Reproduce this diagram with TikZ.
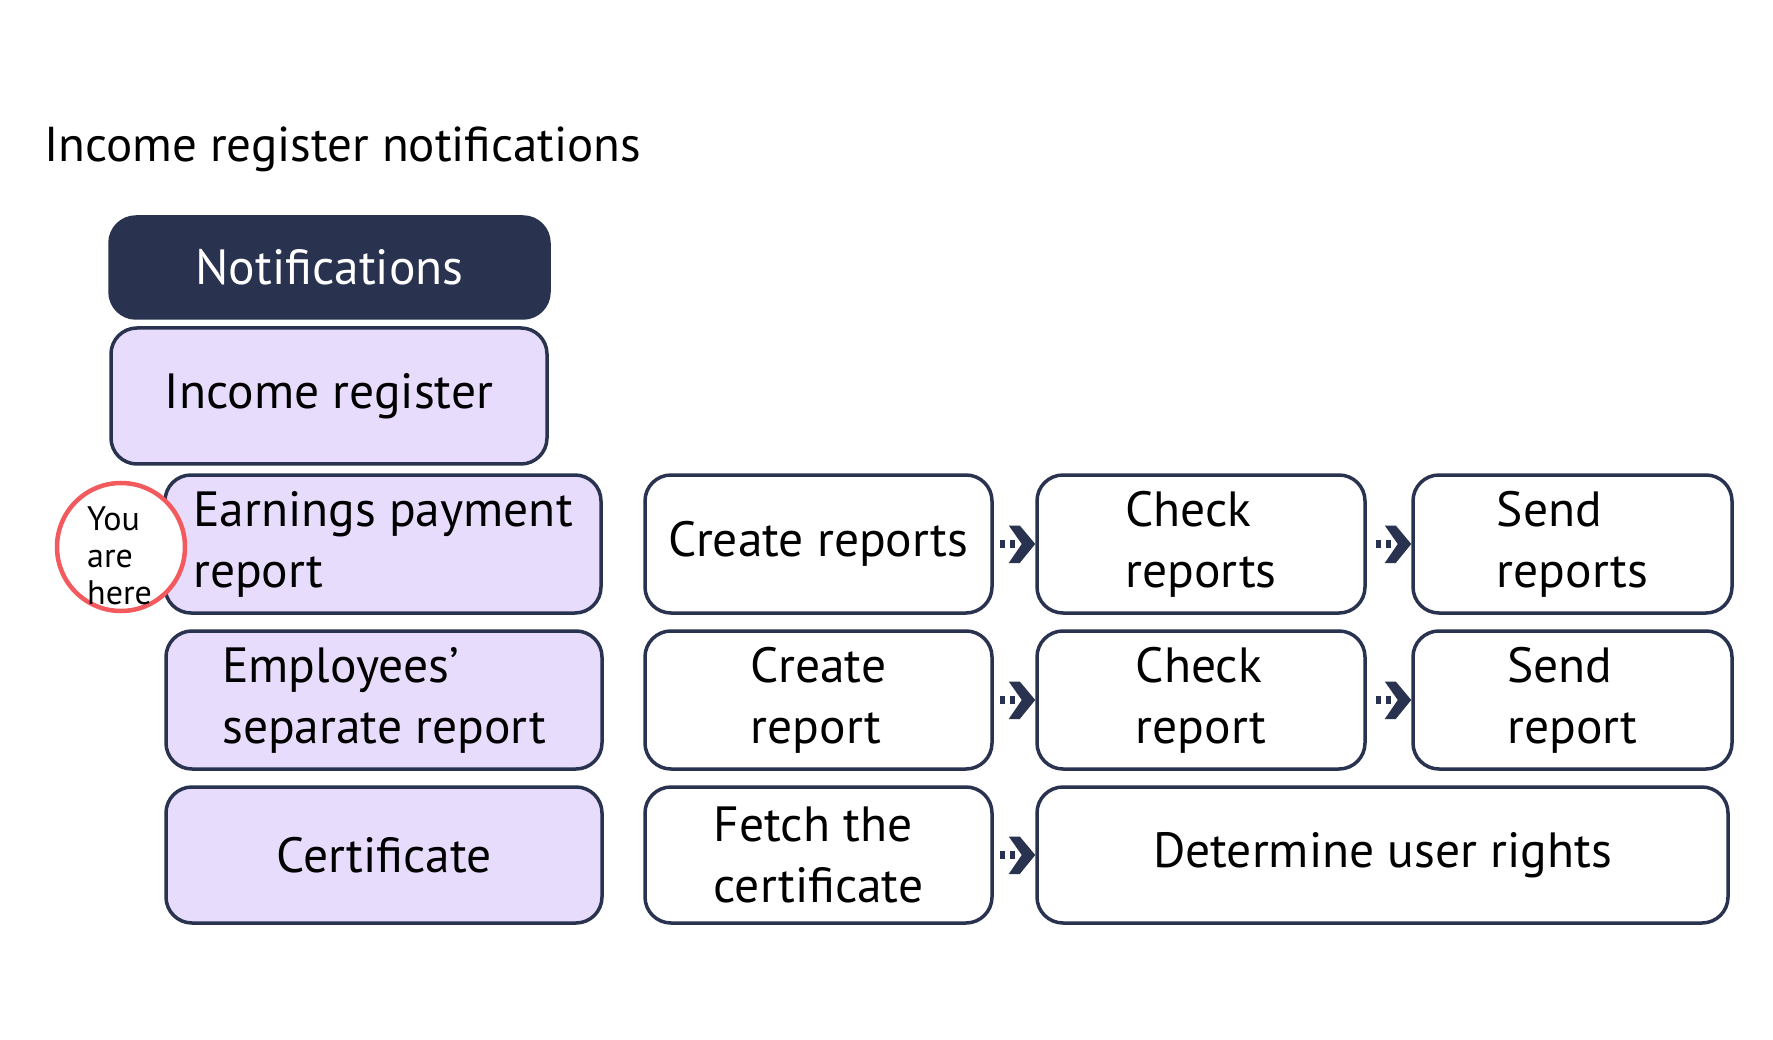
\documentclass[tikz,border=0pt]{standalone}
\usepackage{fontspec}
\setmainfont{PT Sans}
\usetikzlibrary{calc}
\definecolor{navy}{HTML}{29324F}
\definecolor{lav}{HTML}{E8DCFC}
\definecolor{hereRed}{HTML}{F25A5E}
\tikzset{
  box/.style={draw=navy, line width=3.5pt, rounded corners=26pt, inner sep=0pt,
    align=left, font=\fontsize{49.5}{61}\selectfont, text=black},
  lavbox/.style={box, fill=lav},
  whitebox/.style={box, fill=white},
  darkbox/.style={box, fill=navy, text=white},
}
\newcommand{\flowarrow}[2]{%
  \fill[navy] ($(#2.west)+(-26.5,-18.5)$) -- ($(#2.west)+(-15.5,-18.5)$) -- ($(#2.west)+(0,0)$)
    -- ($(#2.west)+(-15.5,19)$) -- ($(#2.west)+(-26.5,19)$) -- ($(#2.west)+(-13.5,0)$) -- cycle;
  \fill[navy] ($(#2.west)+(-35.3,-4)$) rectangle ($(#2.west)+(-30.3,3.7)$);
  \fill[navy] ($(#2.west)+(-25.3,-4)$) rectangle ($(#2.west)+(-20.3,3.7)$);
}
\begin{document}
\begin{tikzpicture}[x=1pt,y=-1pt]
\useasboundingbox (0,0) rectangle (1773,1040);
\fill[white] (0,0) rectangle (1773,1040);
\node[anchor=west, inner sep=0pt, font=\fontsize{49}{61}\selectfont] (title) at (44,149) {Income register notifications};

\node[darkbox, minimum width=439, minimum height=101] (notif) at (329.5,267.5) {Notifications};
\node[lavbox, minimum width=436, minimum height=136] (inc) at (329,396) {Income register};
\node[lavbox, minimum width=436, minimum height=138] (earn) at (383,544) {Earnings payment\\report};
\node[lavbox, minimum width=436, minimum height=138] (emp) at (384,700) {Employees’\\separate report};
\node[lavbox, minimum width=436, minimum height=136] (cert) at (384,855) {Certificate};

\node[whitebox, minimum width=347, minimum height=138] (c1) at (818.5,544) {Create reports};
\node[whitebox, minimum width=328, minimum height=138] (k1) at (1201,544) {Check\\reports};
\node[whitebox, minimum width=319, minimum height=138] (s1) at (1572.5,544) {Send\\reports};

\node[whitebox, minimum width=347, minimum height=138] (c2) at (818.5,700) {Create\\report};
\node[whitebox, minimum width=328, minimum height=138] (k2) at (1201,700) {Check\\report};
\node[whitebox, minimum width=319, minimum height=138] (s2) at (1572.5,700) {Send\\report};

\node[whitebox, minimum width=347, minimum height=136] (f3) at (818.5,855) {Fetch the\\certificate};
\node[whitebox, minimum width=691, minimum height=136] (d3) at (1382.5,855) {Determine user rights};

\flowarrow{c1}{k1}
\flowarrow{k1}{s1}
\flowarrow{c2}{k2}
\flowarrow{k2}{s2}
\flowarrow{f3}{d3}

\node[circle, draw=hereRed, line width=4.5pt, fill=white, minimum size=128pt, inner sep=0pt] (here) at (121,547) {};
\node[anchor=west, align=left, inner sep=0pt, font=\fontsize{34}{37}\selectfont] (heretext) at (87,556) {You\\are\\here};
\end{tikzpicture}
\end{document}
